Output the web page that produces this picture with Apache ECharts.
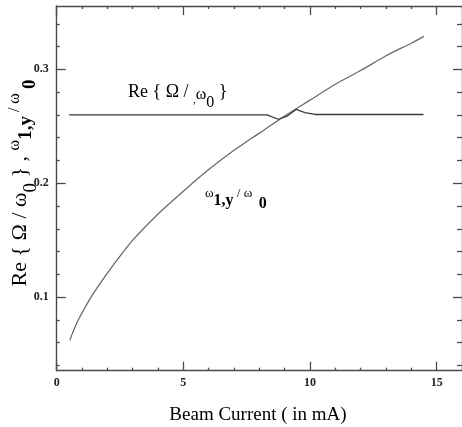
<!DOCTYPE html>
<html>
<head>
<meta charset="utf-8">
<style>
	html, body { margin: 0; padding: 0; background: #fff; }
	#chart { width: 462px; height: 427px; }
</style>
<script src="https://cdn.jsdelivr.net/npm/echarts@6/dist/echarts.min.js"></script>
</head>
<body>
<div id="chart"></div>
<script>
	"use strict";
	// beam current (mA) and omega_1,y / omega_0
	var currentCurve = [0.52, 0.6, 0.75, 0.9, 1.05, 1.25, 1.5, 2.0, 2.5, 3.0, 4.0, 5.0, 6.0, 7.0, 8.0, 9.0, 10.0, 11.0, 12.0, 13.0, 14.0, 14.5];
	var omegaCurve = [0.062, 0.067, 0.075, 0.082, 0.088, 0.096, 0.105, 0.121, 0.136, 0.150, 0.173, 0.193, 0.212, 0.229, 0.244, 0.259, 0.273, 0.287, 0.299, 0.312, 0.323, 0.329];
	// Re{Omega/omega_0}
	var currentRe = [0.49, 8.3, 8.75, 9.1, 9.45, 9.8, 10.2, 14.48];
	var reOmega = [0.260, 0.260, 0.2562, 0.259, 0.2648, 0.262, 0.2604, 0.2604];
	// axis ticks
	var xMajorTicks = [0, 5, 10, 15];
	var xMinorTicks = [1, 2, 3, 4, 6, 7, 8, 9, 11, 12, 13, 14, 16];
	var yMajorTicks = [0.1, 0.2, 0.3];
	var yMinorTicks = [0.04, 0.06, 0.08, 0.12, 0.14, 0.16, 0.18, 0.22, 0.24, 0.26, 0.28, 0.32, 0.34];
	var xRange = [0, 16];
	var yRange = [0.0353, 0.3557];

	var serif = "'Liberation Serif', 'DejaVu Serif', serif";
	var axisColor = '#4a4a4a';

	function pairs(xs, ys) {
		var out = [];
		for (var i = 0; i < xs.length; i++) {
			out.push([xs[i], ys[i]]);
		}
		return out;
	}

	// one axis = one set of ticks (major or minor), drawn inside the frame
	function makeAxis(position, range, ticks, tickLen, withLine, label) {
		return {
			type: 'value',
			position: position,
			min: range[0],
			max: range[1],
			axisLine: { show: withLine, onZero: false, lineStyle: { color: axisColor, width: 1.4 } },
			axisTick: { show: true, inside: true, length: tickLen, customValues: ticks, lineStyle: { color: axisColor, width: 1.3 } },
			axisLabel: label || { show: false },
			splitLine: { show: false }
		};
	}

	// rich text piece; shift > 0 moves it down (sub), < 0 moves it up (raised)
	function piece(size, bold, shift) {
		var p = { fontFamily: serif, fontSize: size, lineHeight: 44, fill: '#000' };
		if (bold) p.fontWeight = 'bold';
		if (shift > 0) p.padding = [shift * 2, 0, 0, 0];
		if (shift < 0) p.padding = [0, 0, -shift * 2, 0];
		return p;
	}

	var labelStyle = {
		fontFamily: serif,
		fontWeight: 'bold',
		fontSize: 12,
		color: '#222'
	};

	var xLabel = Object.assign({ customValues: xMajorTicks, margin: 6, formatter: function(v) { return String(v); } }, labelStyle);
	var yLabel = Object.assign({ customValues: yMajorTicks, margin: 8, formatter: function(v) { return v.toFixed(1); } }, labelStyle);

	var chart = echarts.init(document.getElementById('chart'), null, { renderer: 'canvas' });
	chart.setOption({
		animation: false,
		backgroundColor: '#fff',
		grid: { left: 56.7, top: 6, width: 409.9, height: 364.7 },
		xAxis: [
			makeAxis('bottom', xRange, xMajorTicks, 9, true, xLabel),
			makeAxis('bottom', xRange, xMinorTicks, 3, false),
			makeAxis('top', xRange, xMajorTicks, 9, true),
			makeAxis('top', xRange, xMinorTicks, 3, false)
		],
		yAxis: [
			makeAxis('left', yRange, yMajorTicks, 9, true, yLabel),
			makeAxis('left', yRange, yMinorTicks, 3, false),
			makeAxis('right', yRange, yMajorTicks, 9, true),
			makeAxis('right', yRange, yMinorTicks, 5, false)
		],
		series: [{
			name: 'omega1y',
			type: 'line',
			xAxisIndex: 0,
			yAxisIndex: 0,
			smooth: 0.2,
			showSymbol: false,
			lineStyle: { color: '#6a6a6a', width: 1.3 },
			data: pairs(currentCurve, omegaCurve)
		}, {
			name: 'reOmega',
			type: 'line',
			xAxisIndex: 0,
			yAxisIndex: 0,
			showSymbol: false,
			lineStyle: { color: '#3a3a3a', width: 1.3 },
			data: pairs(currentRe, reOmega)
		}],
		graphic: [{
			// y axis title, rotated
			type: 'text',
			silent: true,
			x: 20,
			y: 183,
			rotation: Math.PI / 2,
			style: {
				text: '{a|Re { Ω / ω}{s|0}{a| }} , {w|ω}{b|1,y}{w| / ω }{c|0}',
				align: 'center',
				verticalAlign: 'middle',
				fontFamily: serif,
				fontSize: 22,
				lineHeight: 44,
				fill: '#000',
				rich: {
					a: piece(22, false, 0),
					s: piece(19, false, 11),
					w: piece(16, false, -5),
					b: piece(19, true, 6),
					c: piece(19, true, 10)
				}
			}
		}, {
			// label of the flat line
			type: 'text',
			silent: true,
			x: 128,
			y: 92,
			style: {
				text: '{a|Re { Ω / }{k|,}{w|ω}{s|0}{a| }}',
				align: 'left',
				verticalAlign: 'middle',
				fontFamily: serif,
				fontSize: 18,
				lineHeight: 44,
				fill: '#000',
				rich: {
					a: piece(18, false, 0),
					k: piece(11, false, 8),
					w: piece(16, false, 3),
					s: piece(16, false, 11)
				}
			}
		}, {
			// label of the rising curve
			type: 'text',
			silent: true,
			x: 205,
			y: 201,
			style: {
				text: '{w|ω}{b|1,y}{w| / ω  }{c|0}',
				align: 'left',
				verticalAlign: 'middle',
				fontFamily: serif,
				fontSize: 16,
				lineHeight: 44,
				fill: '#000',
				rich: {
					w: piece(13, false, -7),
					b: piece(16, true, 0),
					c: piece(16, true, 3)
				}
			}
		}, {
			// x axis title
			type: 'text',
			silent: true,
			x: 258,
			y: 415,
			style: {
				text: 'Beam Current ( in mA)',
				align: 'center',
				verticalAlign: 'middle',
				fontFamily: serif,
				fontSize: 19,
				fill: '#000'
			}
		}]
	});
</script>
</body>
</html>
